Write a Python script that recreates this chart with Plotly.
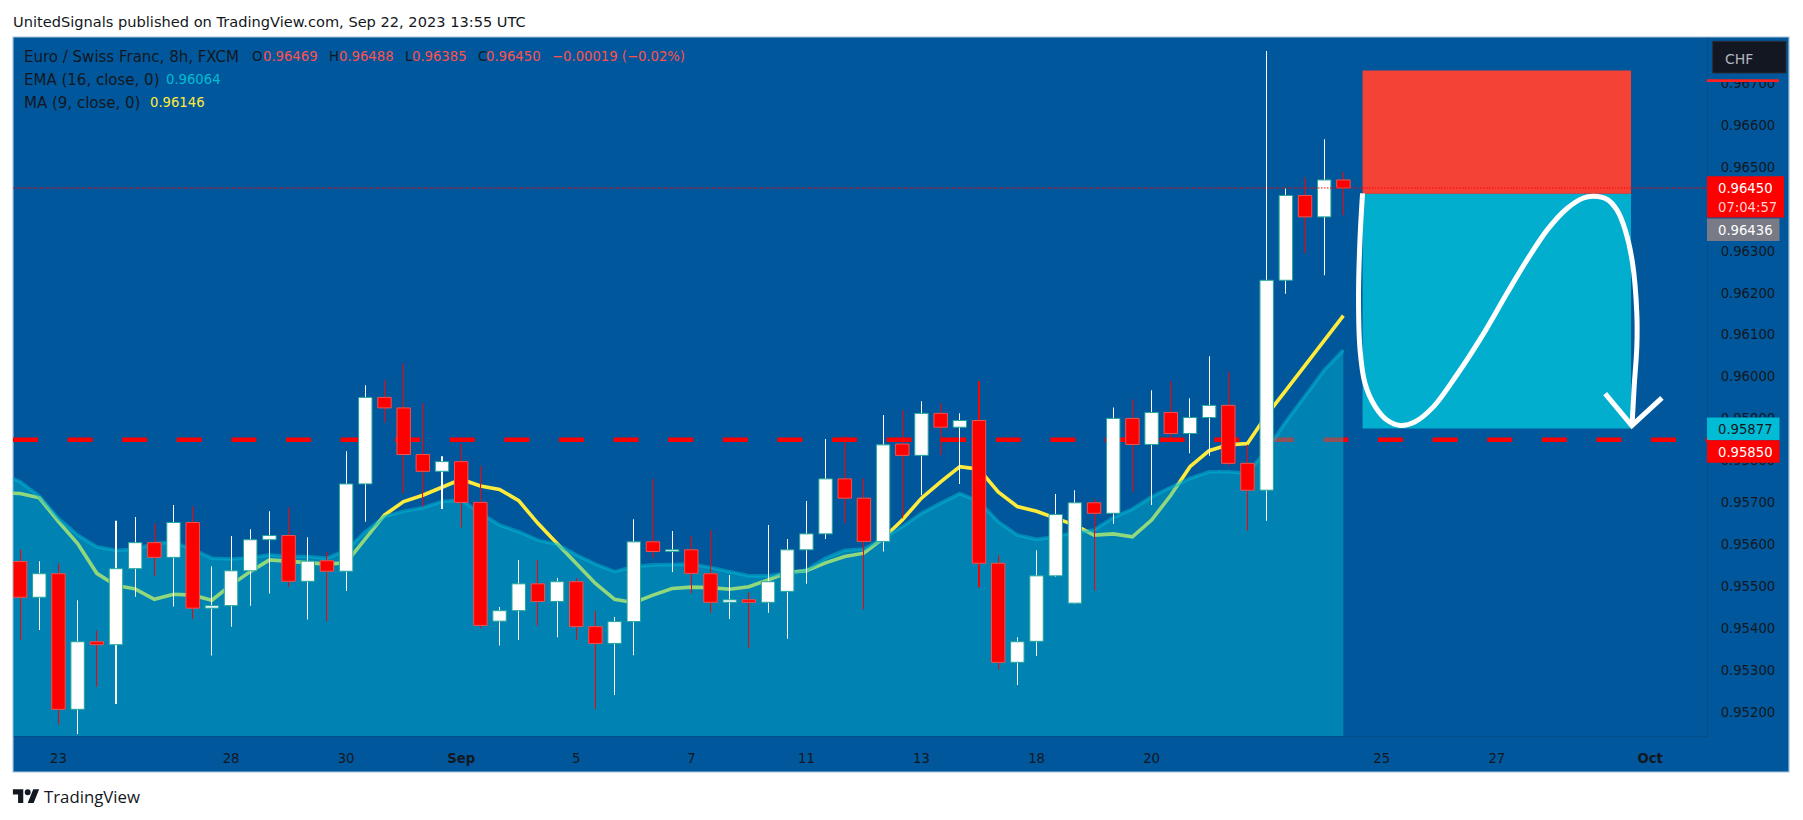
import plotly.graph_objects as go

# ---------- data ----------
open_ = [.95560,.95475,.95531,.95208,.95369,.95362,.95543,.95605,.95570,.95653,.95449,.95455,.95538,.95612,.95622,.95513,.95562,.95537,.95745,.95951,
         .95926,.95815,.95775,.95798,.95701,.95418,.95443,.95507,.95465,.95512,.95405,.95365,.95417,.95607,.95584,.95588,.95531,.95463,.95469,.95463,
         .95489,.95588,.95626,.95757,.95711,.95608,.95840,.95813,.95913,.95880,.95896,.95556,.95320,.95370,.95526,.95461,.95700,.95675,.95901,.95839,
         .95915,.95865,.95903,.95932,.95794,.95730,.96230,.96432,.96381,.96469]
close = [.95475,.95531,.95208,.95369,.95362,.95543,.95605,.95570,.95653,.95449,.95455,.95538,.95612,.95622,.95513,.95561,.95537,.95745,.95951,.95926,
         .95815,.95775,.95798,.95701,.95408,.95443,.95507,.95465,.95512,.95405,.95365,.95417,.95607,.95584,.95588,.95532,.95463,.95469,.95463,.95512,
         .95588,.95626,.95757,.95711,.95608,.95838,.95813,.95913,.95880,.95896,.95556,.95320,.95369,.95526,.95672,.95700,.95675,.95901,.95839,.95915,
         .95865,.95903,.95932,.95794,.95730,.96230,.96432,.96381,.96469,.96450]
high = [.95589,.95561,.95556,.95468,.95395,.95657,.95666,.95651,.95695,.95692,.95549,.95621,.95637,.95680,.95689,.95618,.95582,.95823,.95980,.95992,
        .96032,.95937,.95811,.95840,.95788,.95452,.95564,.95564,.95521,.95521,.95442,.95428,.95661,.95758,.95633,.95621,.95635,.95528,.95487,.95647,
        .95614,.95704,.95852,.95859,.95758,.95909,.95921,.95942,.95937,.95913,.95990,.95575,.95380,.95587,.95721,.95730,.95708,.95927,.95946,.95968,
        .95990,.95949,.96049,.96012,.95838,.96776,.96449,.96475,.96566,.96488]
low = [.95373,.95397,.95171,.95149,.95262,.95221,.95476,.95526,.95453,.95423,.95336,.95405,.95455,.95484,.95500,.95422,.95418,.95490,.95655,.95891,
       .95722,.95691,.95685,.95641,.95401,.95360,.95373,.95407,.95380,.95373,.95209,.95242,.95337,.95569,.95535,.95484,.95438,.95423,.95355,.95438,
       .95376,.95507,.95614,.95651,.95446,.95584,.95663,.95718,.95814,.95745,.95499,.95303,.95266,.95335,.95524,.95459,.95491,.95650,.95726,.95695,
       .95853,.95818,.95812,.95788,.95634,.95657,.96198,.96295,.96242,.96385]
bar_index = list(range(70))

# moving averages start one bar before the first visible candle
ma_index = list(range(-1, 70))
ma_9 = [.95724,.95722,.95712,.95655,.95603,.95532,.95503,.95495,.95470,.95482,.95480,.95468,.95504,.95536,.95564,.95560,.95556,.95554,.95557,.95615,
        .95671,.95703,.95718,.95737,.95756,.95740,.95732,.95705,.95651,.95603,.95556,.95508,.95470,.95462,.95480,.95496,.95499,.95498,.95494,.95500,
        .95516,.95534,.95538,.95557,.95572,.95580,.95615,.95659,.95711,.95750,.95786,.95780,.95726,.95691,.95680,.95663,.95647,.95623,.95626,.95619,
        .95659,.95718,.95786,.95824,.95838,.95841,.95909,.95968,.96028,.96088,.96146]
ema_16 = [.95772,.95750,.95716,.95663,.95623,.95595,.95587,.95589,.95603,.95606,.95589,.95568,.95566,.95569,.95576,.95572,.95572,.95568,.95587,.95631,
          .95667,.95680,.95688,.95703,.95707,.95675,.95647,.95631,.95611,.95601,.95576,.95554,.95536,.95548,.95552,.95554,.95554,.95546,.95536,.95526,
          .95526,.95534,.95540,.95568,.95587,.95590,.95615,.95643,.95675,.95699,.95722,.95703,.95655,.95623,.95613,.95619,.95629,.95635,.95665,.95685,
          .95714,.95737,.95758,.95774,.95774,.95770,.95826,.95893,.95953,.96016,.96064]

support_level = 0.95850
last_close = 0.96450
entry_level = 0.96436
target_level = 0.95877
stop_level = 0.96730
box_index = [70, 84]

path_index = [70.0,69.87,69.79,69.87,70.13,70.66,71.27,71.96,72.74,73.70,74.92,76.31,77.53,78.57,79.61,80.66,81.52,82.05,82.74,83.27,83.70,84.08,84.30,84.30,84.16,84.05]
path_price = [.96437,.96333,.96190,.96064,.95984,.95929,.95897,.95884,.95893,.95929,.96005,.96103,.96199,.96278,.96349,.96401,.96426,.96430,.96423,.96397,.96349,.96270,.96151,.96071,.95975,.95884]
arrow_index = [82.65, 84.04, 85.61]
arrow_price = [.95960, .95884, .95950]

x_tick_index = [2, 11, 17, 23, 29, 35, 41, 47, 53, 59, 71, 77, 85]
x_tick_text = ["23", "28", "30", "<b>Sep</b>", "5", "7", "11", "13", "18", "20", "25", "27", "<b>Oct</b>"]
y_ticks = [.952, .953, .954, .955, .956, .957, .958, .959, .960, .961, .962, .963, .964, .965, .966, .967]

header_text = "UnitedSignals published on TradingView.com, Sep 22, 2023 13:55 UTC"
title_text = "Euro / Swiss Franc, 8h, FXCM"
ohlc_labels = ["O", "H", "L", "C"]
ohlc_values = ["0.96469", "0.96488", "0.96385", "0.96450"]
change_text = "\u22120.00019 (\u22120.02%)"
countdown_text = "07:04:57"

# ---------- style / layout ----------
W, H = 1803, 820
L, R, T, B = 13.4, 1707.0, 36.7, 736.0
XR = [-0.37, 87.96]
YR = [0.951445, 0.968095]
BG = "#01579B"
INK = "#131722"
FONT = "DejaVu Sans"
FS = 13.2
FS_WORDS = 15

def fx(p): return (p - L) / (R - L)
def fy(p): return 1 - (p - T) / (B - T)

traces = []
# --- main subplot: below the EMA area ---
traces.append(go.Scatter(x=XR, y=[support_level, support_level], mode="lines", name="support",
                         line=dict(color="#FF0000", width=4.5, dash="25px,29.6px"), hoverinfo="skip"))
traces.append(go.Scatter(x=ma_index, y=ma_9, mode="lines", name="MA 9",
                         line=dict(color="#FFEB3B", width=3.6), hoverinfo="skip"))
traces.append(go.Scatter(x=ma_index, y=ema_16, mode="lines", name="EMA 16", fill="tozeroy",
                         fillcolor="rgba(0,188,212,0.43)", line=dict(color="rgba(0,188,212,0.5)", width=3.6),
                         hoverinfo="skip"))

# --- overlay subplot: candles and drawings on top ---
over = dict(xaxis="x2", yaxis="y2", hoverinfo="skip", showlegend=False)
up = [c >= o for o, c in zip(open_, close)]
traces.append(go.Bar(x=bar_index, base=low, y=[h - l for h, l in zip(high, low)], width=0.003,
                     marker=dict(color=["#FFFFFF" if u else "#FF0000" for u in up], line=dict(width=0)), **over))
traces.append(go.Bar(x=bar_index, base=[min(o, c) for o, c in zip(open_, close)],
                     y=[abs(c - o) for o, c in zip(open_, close)], width=0.70,
                     marker=dict(color=["#FFFFFF" if u else "#FF0000" for u in up],
                                 line=dict(width=1, color=["#26A69A" if u else "#EF5350" for u in up])), **over))

bx = [box_index[0], box_index[1], box_index[1], box_index[0], box_index[0]]
traces.append(go.Scatter(x=bx, y=[target_level, target_level, entry_level, entry_level, target_level], mode="lines",
                         fill="toself", fillcolor="#02AECD", line=dict(width=0), **over))
traces.append(go.Scatter(x=bx, y=[entry_level, entry_level, stop_level, stop_level, entry_level], mode="lines",
                         fill="toself", fillcolor="#F44336", line=dict(width=0), **over))
traces.append(go.Scatter(x=XR, y=[last_close, last_close], mode="lines",
                         line=dict(color="#FF0000", width=1, dash="1.5px,1.5px"), **over))
traces.append(go.Scatter(x=path_index, y=path_price, mode="lines",
                         line=dict(color="#FFFFFF", width=5, shape="spline", smoothing=0.9), **over))
traces.append(go.Scatter(x=arrow_index, y=arrow_price, mode="lines",
                         line=dict(color="#FFFFFF", width=5), **over))

fig = go.Figure(traces)

def rect(x0, y0, x1, y1, fill, line=None):
    return dict(type="rect", xref="paper", yref="paper", x0=fx(x0), x1=fx(x1), y0=fy(y0), y1=fy(y1),
                fillcolor=fill, layer="above", line=dict(width=1 if line else 0, color=line or fill))

shapes = [
    dict(type="rect", xref="paper", yref="paper", x0=fx(13.4), x1=fx(1789), y0=fy(36.7), y1=fy(772),
         fillcolor=BG, layer="below", line=dict(width=1.2, color="#A9C3DA")),
    rect(1707.5, 72.7, 1780, 79, BG),
    rect(1707, 79, 1779, 81.7, "#FF2020"),
    rect(1712.7, 41, 1786, 72.7, INK, "#2A2E39"),
    rect(1707, 176, 1784, 217.3, "#FF0000"),
    rect(1707, 218.3, 1779.5, 240.7, "#787B86"),
    rect(1707, 417.3, 1779.5, 440, "#00BCD4"),
    rect(1707, 440, 1779.5, 462.7, "#FF0000"),
]
# TradingView logo
def lg(x, y): return f"{fx(13.3 + 0.74 * x):.5f},{fy(789.3 + 0.76 * (y - 4)):.5f}"
logo = ("M" + "L".join(lg(*p) for p in [(14, 22), (7, 22), (7, 11), (0, 11), (0, 4), (14, 4)]) + "Z"
        + "M" + "L".join(lg(*p) for p in [(28, 22), (20, 22), (27.5, 4), (35.5, 4)]) + "Z")
shapes.append(dict(type="path", xref="paper", yref="paper", path=logo, fillcolor=INK, line=dict(width=0), layer="above"))
shapes.append(dict(type="circle", xref="paper", yref="paper", x0=fx(13.3 + .74 * 16), x1=fx(13.3 + .74 * 24),
                   y0=fy(789.3 + .76 * 0), y1=fy(789.3 + .76 * 8), fillcolor=INK, line=dict(width=0), layer="above"))

def text(s, x, y, color=INK, size=FS, family=FONT):
    return dict(text=s, xref="paper", yref="paper", x=fx(x), y=fy(y), xanchor="left", yanchor="middle",
                showarrow=False, font=dict(color=color, size=size, family=family), align="left",
                xshift=0, yshift=0, borderpad=0, borderwidth=0)

VAL = "#FF5050"
ann = [
    text(header_text, 13, 20.7, size=14.6),
    text(title_text, 24, 56.7, size=FS_WORDS),
    text("EMA (16, close, 0)", 24, 79.3, size=FS_WORDS),
    text("0.96064", 166.5, 79.3, "#00BCD4"),
    text("MA (9, close, 0)", 24, 102.7, size=FS_WORDS),
    text("0.96146", 150.5, 102.7, "#FFEB3B"),
    text(change_text, 552, 56.7, VAL),
    text("CHF", 1724.7, 58.7, "#B2B5BE", size=14),
    text(f"{last_close:.5f}", 1717.7, 188.3, "#FFFFFF"),
    text(countdown_text, 1717.7, 207.3, "#FFD0D0"),
    text(f"{entry_level:.5f}", 1717.7, 230.3, "#FFFFFF"),
    text(f"{target_level:.5f}", 1717.7, 429.3, INK),
    text(f"{support_level:.5f}", 1717.7, 452.7, "#FFFFFF"),
    text("TradingView", 44.5, 797, INK, 16.8, "Open Sans"),
]
for lab, val, lx, vx in zip(ohlc_labels, ohlc_values, [252.7, 329, 405, 478.6], [263, 339, 412, 486.6]):
    ann.append(text(lab, lx, 56.7))
    ann.append(text(val, vx, 56.7, VAL))

axis_font = dict(color=INK, size=FS, family=FONT)
fig.update_layout(
    width=W, height=H, autosize=False,
    margin=dict(l=L, r=W - R, t=T, b=H - B, pad=0),
    paper_bgcolor="#FFFFFF", plot_bgcolor=BG, showlegend=False, barmode="overlay",
    hovermode=False, shapes=shapes, annotations=ann, font=dict(family=FONT, color=INK),
    xaxis=dict(range=XR, tickmode="array", tickvals=x_tick_index, ticktext=x_tick_text, showgrid=False, zeroline=False,
               tickfont=axis_font, ticks="outside", ticklen=10, tickcolor="rgba(0,0,0,0)", showline=True,
               linecolor="rgba(19,23,34,0.15)", linewidth=1),
    yaxis=dict(range=YR, side="right", tickmode="array", tickvals=y_ticks, tickformat=".5f", showgrid=False, zeroline=False,
               tickfont=axis_font, ticks="outside", ticklen=10, tickcolor="rgba(0,0,0,0)", showline=True,
               linecolor="rgba(19,23,34,0.15)", linewidth=1),
    xaxis2=dict(range=XR, overlaying="x", visible=False),
    yaxis2=dict(range=YR, overlaying="y", visible=False),
)

fig.write_html("out.html", config=dict(displayModeBar=False),
               post_script="document.body.style.margin='0';document.body.style.overflow='hidden';")
